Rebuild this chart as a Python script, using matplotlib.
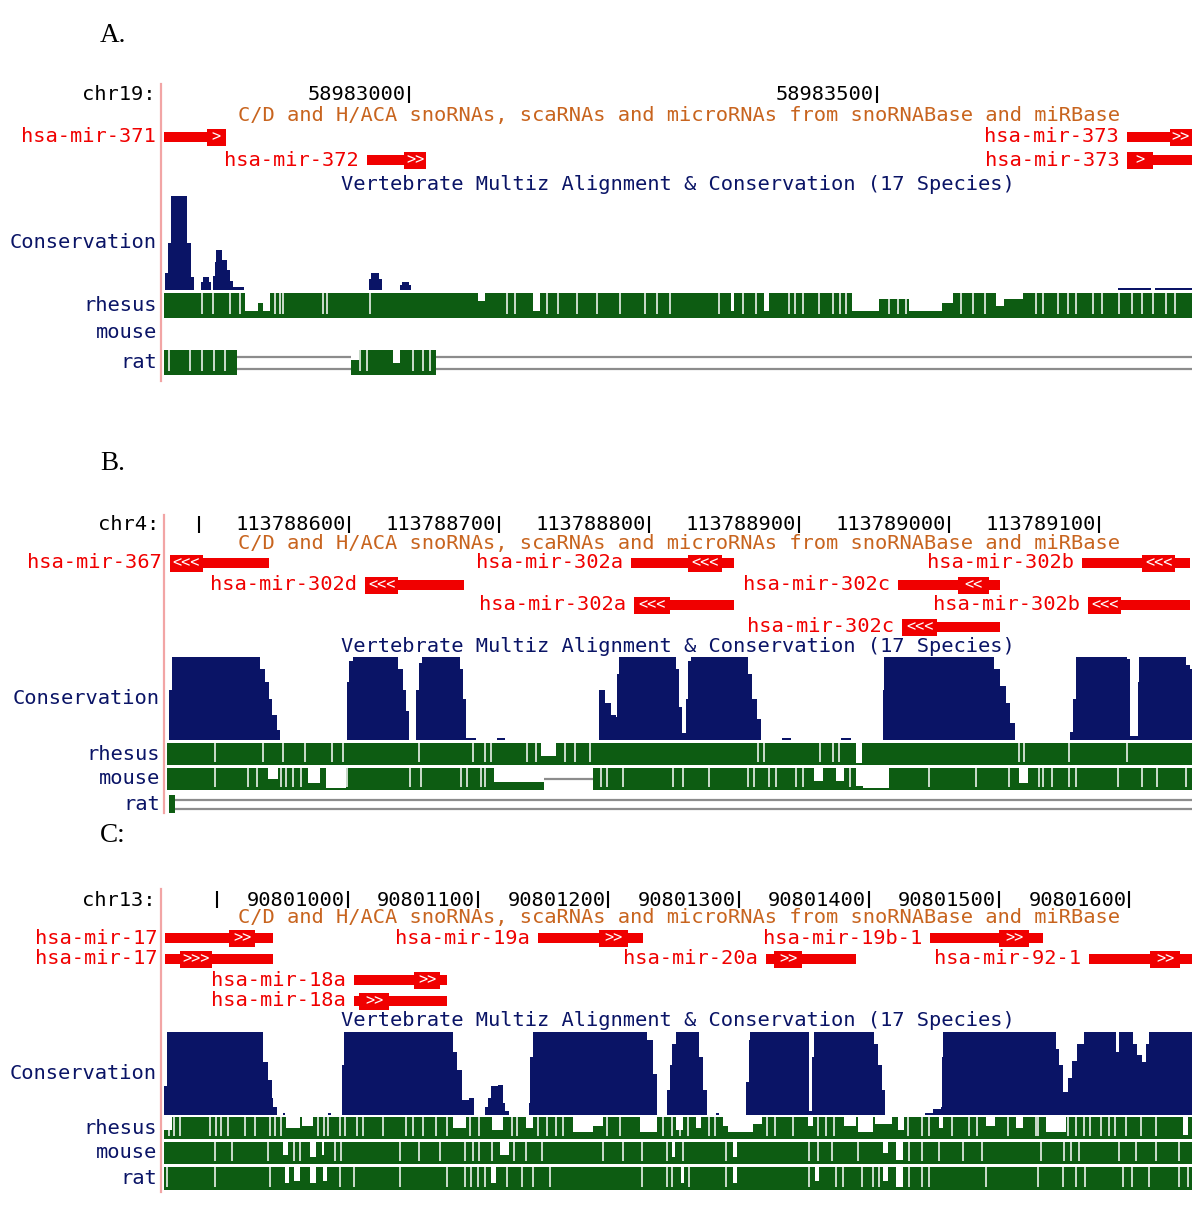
import matplotlib
matplotlib.use('Agg')
import matplotlib.pyplot as plt

plt.rcParams['font.family'] = ['DejaVu Sans Mono']

RED = '#f00000'
ORANGE = '#c8641e'
NAVY = '#0a1466'
GREEN = '#0d5c12'
GRAY = '#8c8c8c'
PINK = '#f2a5a5'

TITLE = 'C/D and H/ACA snoRNAs, scaRNAs and microRNAs from snoRNABase and miRBase'
VERT = 'Vertebrate Multiz Alignment & Conservation (17 Species)'

# ---------------- panel A : chr19, positions in bp from 58983000
a_view = (-262, 837)
a_ticks = [0, 500]
a_tick_labels = ['58983000', '58983500']
# label, start, end, thick start, thick end, arrows, row
a_genes = [
    ('hsa-mir-371', -262, -196, -216, -196, '>', 0),
    ('hsa-mir-372', -45, 18, -5, 18, '>>', 1),
    ('hsa-mir-373', 767, 840, 813, 840, '>>', 0),
    ('hsa-mir-373', 768, 840, 768, 795, '>', 1),
]
a_cons_pos = [-261, -258, -255, -237, -233, -230, -222, -220, -214, -212, -210, -208, -206, -200, -195,
              -191, -188, -177, -43, -41, -32, -29, -10, -8, 0, 2, 758, 793, 797, 837]
a_cons_val = [0.18, 0.5, 1.0, 0.5, 0.14, 0.0, 0.08, 0.14, 0.08, 0.0, 0.15, 0.3, 0.43, 0.32, 0.21,
              0.1, 0.03, 0.0, 0.12, 0.18, 0.12, 0.0, 0.05, 0.09, 0.05, 0.0, 0.02, 0.0, 0.02, 0.02]
a_rhesus_spans = [(-262, 837)]
a_rhesus_low = [(-175, -162, 0.3), (-162, -156, 0.6), (-156, -149, 0.3), (74, 81, 0.7), (132, 140, 0.3),
                (344, 347, 0.3), (379, 385, 0.3), (474, 502, 0.3), (502, 534, 0.75), (534, 570, 0.3),
                (570, 582, 0.6), (627, 636, 0.5), (636, 656, 0.75)]
a_rhesus_dips = [-221, -210, -191, -181, -143, -138, -135, -92, -88, -42, 105, 113, 147, 159, 179, 201,
                 225, 252, 265, 279, 331, 357, 371, 406, 413, 421, 438, 453, 461, 467, 513, 523, 531,
                 590, 603, 616, 670, 678, 694, 704, 713, 731, 741, 759, 773, 784, 795, 809, 819]
a_rat_spans = [(-262, -184), (-62, 29)]
a_rat_low = [(-62, -54, 0.6), (-17, -10, 0.5)]
a_rat_dips = [-257, -234, -221, -209, -197, -52, -45, 4, 15, 22]
a_rat_gaps = [(-184, -62, 'double'), (29, 840, 'double')]

# ---------------- panel B : chr4, positions in bp from 113788600
b_view = (-121, 562)
b_ticks = [-100, 0, 100, 200, 300, 400, 500]
b_tick_labels = ['', '113788600', '113788700', '113788800', '113788900', '113789000', '113789100']
b_genes = [
    ('hsa-mir-367', -119, -53, -119, -97, '<<<', 0),
    ('hsa-mir-302d', 11, 77, 11, 33, '<<<', 1),
    ('hsa-mir-302a', 188, 257, 226, 249, '<<<', 0),
    ('hsa-mir-302a', 190, 257, 190, 214, '<<<', 2),
    ('hsa-mir-302c', 366, 434, 406, 427, '<<', 1),
    ('hsa-mir-302c', 369, 434, 369, 392, '<<<', 3),
    ('hsa-mir-302b', 489, 561, 529, 551, '<<<', 0),
    ('hsa-mir-302b', 493, 561, 493, 515, '<<<', 2),
]
b_cons_pos = [-120, -118, -59, -56, -53, -51, -48, -46, -1, 0, 3, 33, 36, 38, 40, 45, 47, 49, 74, 76,
              78, 85, 99, 104, 167, 171, 175, 178, 179, 180, 218, 220, 222, 225, 226, 228, 266, 269,
              272, 275, 289, 295, 328, 335, 356, 357, 430, 434, 438, 441, 444, 481, 483, 485, 519,
              521, 526, 527, 558, 561, 562]
b_cons_val = [0.6, 1.0, 0.85, 0.7, 0.5, 0.3, 0.12, 0.0, 0.7, 0.95, 1.0, 0.85, 0.6, 0.35, 0.0, 0.6,
              0.93, 1.0, 0.85, 0.5, 0.02, 0.0, 0.03, 0.0, 0.6, 0.45, 0.3, 0.28, 0.8, 1.0, 0.85, 0.4,
              0.08, 0.5, 0.95, 1.0, 0.8, 0.5, 0.25, 0.0, 0.03, 0.0, 0.03, 0.0, 0.6, 1.0, 0.85, 0.65,
              0.45, 0.2, 0.0, 0.1, 0.5, 1.0, 0.97, 0.05, 0.7, 1.0, 0.9, 0.85, 0.0]
b_rhesus_spans = [(-121, 562)]
b_rhesus_low = [(128, 138, 0.4), (338, 342, 0.1)]
b_rhesus_dips = [-89, -57, -44, -29, -11, -4, 47, 83, 91, 95, 119, 125, 144, 151, 161, 273, 277, 314,
                 323, 327, 447, 450, 480, 519]
b_mouse_spans = [(-121, 130), (163, 562)]
b_mouse_low = [(-54, -47, 0.5), (-27, -19, 0.3), (-15, -2, 0.1), (97, 130, 0.35), (310, 316, 0.4),
               (325, 330, 0.4), (338, 343, 0.2), (343, 360, 0.1), (447, 453, 0.3)]
b_mouse_dips = [-89, -67, -61, -45, -42, -37, -32, -1, 41, 48, 75, 79, 88, 91, 168, 172, 183, 216,
                223, 240, 266, 270, 280, 285, 298, 303, 334, 387, 418, 440, 460, 463, 469, 480, 485,
                513, 529, 539, 558]
b_mouse_gaps = [(130, 163, 'single')]
b_rat_spans = [(-120, -116)]
b_rat_gaps = [(-116, 562, 'double')]

# ---------------- panel C : chr13, positions in bp from 90801000
c_view = (-141, 648)
c_ticks = [-100, 0, 100, 200, 300, 400, 500, 600]
c_tick_labels = ['', '90801000', '90801100', '90801200', '90801300', '90801400', '90801500', '90801600']
c_genes = [
    ('hsa-mir-17', -140, -57, -91, -71, '>>', 0),
    ('hsa-mir-17', -140, -57, -129, -104, '>>>', 1),
    ('hsa-mir-18a', 5, 76, 51, 71, '>>', 2),
    ('hsa-mir-18a', 5, 76, 9, 32, '>>', 3),
    ('hsa-mir-19a', 146, 227, 193, 215, '>>', 0),
    ('hsa-mir-20a', 321, 390, 327, 349, '>>', 1),
    ('hsa-mir-19b-1', 447, 534, 500, 523, '>>', 0),
    ('hsa-mir-92-1', 569, 650, 616, 639, '>>', 1),
]
c_cons_pos = [-141, -139, -65, -61, -58, -57, -54, -50, -48, -15, -13, -4, -3, 81, 84, 88, 93, 97,
              105, 108, 110, 115, 119, 121, 124, 139, 140, 142, 230, 234, 237, 245, 247, 249, 252,
              270, 273, 276, 283, 285, 306, 308, 309, 354, 356, 358, 404, 407, 410, 412, 443, 449,
              455, 456, 457, 544, 546, 549, 553, 556, 560, 565, 590, 592, 603, 606, 610, 613, 615, 648]
c_cons_val = [0.35, 1.0, 0.64, 0.42, 0.2, 0.1, 0.0, 0.03, 0.0, 0.03, 0.0, 0.6, 1.0, 0.76, 0.54,
              0.18, 0.2, 0.0, 0.1, 0.2, 0.35, 0.36, 0.15, 0.05, 0.0, 0.15, 0.7, 1.0, 0.9, 0.5, 0.0,
              0.3, 0.6, 0.85, 1.0, 0.7, 0.3, 0.0, 0.03, 0.0, 0.4, 0.9, 1.0, 0.05, 0.7, 1.0, 0.85,
              0.6, 0.3, 0.0, 0.03, 0.07, 0.1, 0.7, 1.0, 0.8, 0.6, 0.28, 0.45, 0.65, 0.85, 1.0, 0.76,
              1.0, 0.85, 0.72, 0.64, 0.85, 1.0, 0.0]
c_rhesus_spans = [(-141, 648)]
c_rhesus_low = [(-141, -135, 0.4), (-47, -37, 0.5), (-35, -27, 0.6), (81, 91, 0.5), (111, 119, 0.4),
                (137, 142, 0.5), (173, 188, 0.3), (188, 196, 0.6), (224, 237, 0.3), (252, 257, 0.4),
                (267, 271, 0.5), (288, 292, 0.6), (292, 311, 0.3), (311, 318, 0.7), (353, 357, 0.6),
                (381, 390, 0.6), (392, 403, 0.3), (405, 418, 0.7), (422, 427, 0.4), (454, 457, 0.5),
                (490, 497, 0.6), (513, 518, 0.5), (536, 551, 0.3), (641, 645, 0.2)]
c_rhesus_dips = [-137, -133, -129, -106, -101, -97, -92, -79, -71, -60, -56, -51, -23, -18, -15, -6,
                 -2, 7, 12, 27, 45, 50, 58, 68, 76, 94, 101, 126, 130, 146, 153, 160, 165, 199, 209,
                 242, 249, 255, 261, 277, 282, 322, 328, 342, 361, 367, 373, 430, 441, 446, 464, 477,
                 483, 507, 528, 530, 553, 559, 565, 570, 578, 584, 589, 597, 609, 620]
c_mouse_spans = [(-141, 648)]
c_mouse_low = [(-50, -46, 0.4), (-29, -24, 0.3), (-20, -18, 0.4), (117, 124, 0.4), (249, 251, 0.3),
               (296, 299, 0.3), (411, 415, 0.5), (421, 426, 0.2)]
c_mouse_dips = [-102, -89, -61, -41, -37, -10, -5, 40, 55, 71, 90, 96, 101, 111, 128, 137, 149, 196,
                211, 226, 245, 257, 290, 354, 361, 372, 392, 431, 441, 454, 472, 487, 532, 550, 555,
                561, 592, 605, 620, 638]
c_rat_spans = [(-141, 648)]
c_rat_low = [(-48, -45, 0.3), (-41, -37, 0.4), (-29, -24, 0.3), (-19, -16, 0.4), (110, 114, 0.3),
             (256, 258, 0.3), (296, 299, 0.3), (359, 362, 0.4), (411, 415, 0.4), (421, 426, 0.15)]
c_rat_dips = [-139, -102, -60, -6, 5, 40, 76, 90, 95, 100, 105, 122, 134, 142, 155, 226, 245, 249,
              262, 290, 354, 375, 380, 395, 403, 408, 431, 441, 446, 490, 530, 549, 559, 566, 595,
              602, 615, 638, 645]

# layout of the three browser images (pixel rows on the page)
panels = [
    dict(letter='A.', letter_y=35, chrom='chr19:', px=(164, 1192), view=a_view, label_x=156,
         head_y=95, pink=(161, 84, 381), ticks=a_ticks, tick_labels=a_tick_labels, title_y=116,
         genes=a_genes, rows=[137, 160], vert_y=184, cons=(a_cons_pos, a_cons_val, 196, 290),
         tracks=[('rhesus', 293, 318, a_rhesus_spans, a_rhesus_low, a_rhesus_dips, []),
                 ('mouse', 322, 344, [], [], [], []),
                 ('rat', 350, 375, a_rat_spans, a_rat_low, a_rat_dips, a_rat_gaps)]),
    dict(letter='B.', letter_y=463, chrom='chr4:', px=(167, 1192), view=b_view, label_x=159,
         head_y=525, pink=(164, 515, 813), ticks=b_ticks, tick_labels=b_tick_labels, title_y=544,
         genes=b_genes, rows=[563, 585, 605, 627], vert_y=647, cons=(b_cons_pos, b_cons_val, 657, 740),
         tracks=[('rhesus', 743, 765, b_rhesus_spans, b_rhesus_low, b_rhesus_dips, []),
                 ('mouse', 768, 790, b_mouse_spans, b_mouse_low, b_mouse_dips, b_mouse_gaps),
                 ('rat', 795, 813, b_rat_spans, [], [], b_rat_gaps)]),
    dict(letter='C:', letter_y=836, chrom='chr13:', px=(164, 1192), view=c_view, label_x=156,
         head_y=900, pink=(161, 889, 1192), ticks=c_ticks, tick_labels=c_tick_labels, title_y=918,
         genes=c_genes, rows=[938, 959, 980, 1001], vert_y=1021, cons=(c_cons_pos, c_cons_val, 1032, 1115),
         tracks=[('rhesus', 1117, 1139, c_rhesus_spans, c_rhesus_low, c_rhesus_dips, []),
                 ('mouse', 1142, 1164, c_mouse_spans, c_mouse_low, c_mouse_dips, []),
                 ('rat', 1167, 1190, c_rat_spans, c_rat_low, c_rat_dips, [])]),
]

fig = plt.figure(figsize=(12, 12.09), dpi=100)
page = fig.add_axes([0, 0, 1, 1])
page.set_xlim(0, 1200)
page.set_ylim(1209, 0)
page.axis('off')

FS = 14.65

for p in panels:
    v0, v1 = p['view']
    x0, x1 = p['px']
    ax = fig.add_axes([x0 / 1200, 0, (x1 - x0) / 1200, 1])
    ax.set_xlim(v0, v1)
    ax.set_ylim(1209, 0)
    ax.axis('off')
    ax.patch.set_alpha(0)

    page.text(100, p['letter_y'], p['letter'], family='Liberation Serif', fontsize=19.5,
              ha='left', va='center')
    px, py0, py1 = p['pink']
    page.plot([px, px], [py0, py1], color=PINK, lw=1.6)
    page.text(p['label_x'], p['head_y'], p['chrom'], fontsize=FS, ha='right', va='center', color='black')

    # position ruler
    hy = p['head_y']
    for t, lab in zip(p['ticks'], p['tick_labels']):
        ax.vlines(t, hy - 9, hy + 8, color='black', lw=1.5)
        if lab:
            ax.annotate(lab, (t, hy), xytext=(-3, 0), textcoords='offset pixels',
                        ha='right', va='center', fontsize=FS, color='black')

    page.text(679, p['title_y'], TITLE, fontsize=FS, ha='center', va='center', color=ORANGE)
    page.text(678, p['vert_y'], VERT, fontsize=FS, ha='center', va='center', color=NAVY)

    # microRNA features
    for label, s, e, ts, te, arrows, row in p['genes']:
        y = p['rows'][row]
        ax.bar(s, 10, width=e - s, bottom=y - 5, align='edge', color=RED, lw=0)
        ax.bar(ts, 17, width=te - ts, bottom=y - 8.5, align='edge', color=RED, lw=0)
        cs, ce = max(ts, v0), min(te, v1)
        ax.text((cs + ce) / 2, y, arrows, color='white', fontsize=11, ha='center', va='center')
        ax.annotate(label, (max(s, v0), y), xytext=(-8, 0), textcoords='offset pixels',
                    ha='right', va='center', fontsize=FS, color=RED)

    # conservation wiggle
    cpos, cval, ctop, cbase = p['cons']
    ch = cbase - ctop
    ax.fill_between(cpos, cbase, [cbase - ch * v for v in cval], step='post', color=NAVY, lw=0)
    page.text(p['label_x'] + 1, (ctop + cbase) / 2, 'Conservation', fontsize=FS,
              ha='right', va='center', color=NAVY)

    # species alignment tracks
    for name, top, bot, spans, lows, dips, gaps in p['tracks']:
        h = bot - top
        page.text(p['label_x'] + 1, (top + bot) / 2, name, fontsize=FS, ha='right', va='center', color=NAVY)
        for s, e in spans:
            ax.bar(s, h, width=e - s, bottom=top, align='edge', color=GREEN, lw=0)
        for s, e, lev in lows:
            ax.bar(s, h * (1 - lev), width=e - s, bottom=top, align='edge', color='white', lw=0)
        if dips:
            ax.vlines(dips, top, bot - 0.15 * h, color='white', lw=1.1)
        for s, e, kind in gaps:
            if kind == 'double':
                ax.hlines([top + 0.28 * h, top + 0.76 * h], s, e, color=GRAY, lw=1.6)
            else:
                ax.hlines(top + 0.5 * h, s, e, color=GRAY, lw=1.6)

fig.savefig('out.png', dpi=100)
